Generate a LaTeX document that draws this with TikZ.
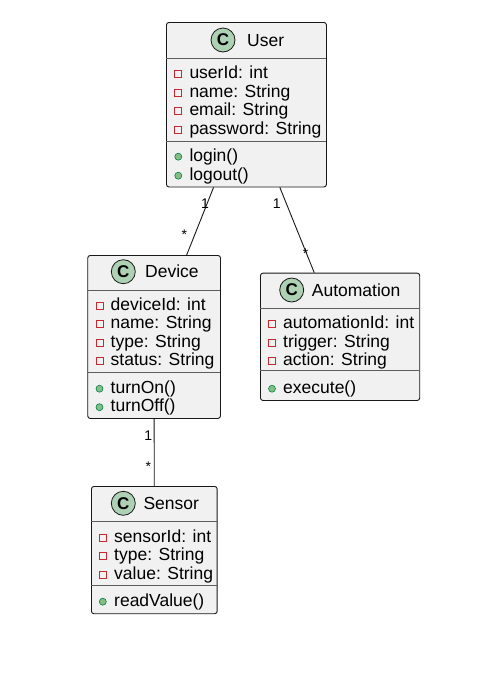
\documentclass[tikz,border=0pt]{standalone}
\usepackage{fontspec}
\setmainfont{Liberation Sans}
\usepackage{xcolor}
\usepackage{tikz}

\definecolor{boxgray}{HTML}{F1F1F1}
\definecolor{linegray}{HTML}{181818}
\definecolor{badgegreen}{HTML}{ADD1B2}
\definecolor{privred}{HTML}{C82930}
\definecolor{pubgreen}{HTML}{84BE84}
\definecolor{pubdark}{HTML}{038048}

\tikzset{
  classbox/.style={draw=linegray, fill=boxgray, rounded corners=2.5pt, line width=0.9pt, inner sep=0pt, anchor=north west},
  sepline/.style={draw=linegray!70, line width=0.9pt},
  badge/.style={circle, draw=linegray, fill=badgegreen, line width=0.8pt, minimum size=24pt, inner sep=0pt, font=\fontsize{17}{17}\bfseries\selectfont},
  title/.style={anchor=base west, inner sep=0pt, font=\fontsize{17.5}{18}\selectfont},
  member/.style={anchor=base west, inner sep=0pt, font=\fontsize{17.5}{18}\selectfont},
  privmark/.style={rectangle, draw=privred, line width=0.9pt, minimum size=7pt, inner sep=0pt},
  pubmark/.style={circle, draw=pubdark, fill=pubgreen, line width=0.6pt, minimum size=7pt, inner sep=0pt},
  assoc/.style={draw=linegray, line width=0.9pt},
  mult/.style={inner sep=0pt, font=\fontsize{14}{14}\selectfont}
}

\begin{document}
\begin{tikzpicture}[x=1pt, y=-1pt]
    \useasboundingbox[fill=white] (0,0) rectangle (477,673);

    % User
    \node[classbox, minimum width=160pt, minimum height=164.5pt] (U) at (166,22) {};
    \draw[sepline] (166,58) -- (326,58);
    \draw[sepline] (166,141) -- (326,141);
    \node[badge] (U-c) at (223,40) {C};
    \node[title] (U-t) at (247,46) {User};
    \foreach \y/\txt [count=\i] in {78.5/userId: int, 97/name: String, 115.5/email: String, 134/password: String} {
        \node[privmark] (U-p\i) at (178.3,\y-4.3) {};
        \node[member] (U-a\i) at (189.3,\y) {\txt};
    }
    \foreach \y/\txt [count=\i] in {161/login(), 180/logout()} {
        \node[pubmark] (U-q\i) at (178.3,\y-4.3) {};
        \node[member] (U-o\i) at (189.3,\y) {\txt};
    }

    % Device
    \node[classbox, minimum width=132.7pt, minimum height=163pt] (D) at (87.3,255) {};
    \draw[sepline] (87.3,290) -- (220,290);
    \draw[sepline] (87.3,372.7) -- (220,372.7);
    \node[badge] (D-c) at (123.3,271.7) {C};
    \node[title] (D-t) at (145,277.5) {Device};
    \foreach \y/\txt [count=\i] in {310/deviceId: int, 328.5/name: String, 347/type: String, 365.5/status: String} {
        \node[privmark] (D-p\i) at (99.5,\y-4.3) {};
        \node[member] (D-a\i) at (110.5,\y) {\txt};
    }
    \foreach \y/\txt [count=\i] in {393/turnOn(), 411.5/turnOff()} {
        \node[pubmark] (D-q\i) at (99.5,\y-4.3) {};
        \node[member] (D-o\i) at (110.5,\y) {\txt};
    }

    % Automation
    \node[classbox, minimum width=159.3pt, minimum height=127.3pt] (A) at (260,272.7) {};
    \draw[sepline] (260,308.3) -- (419.3,308.3);
    \draw[sepline] (260,370.7) -- (419.3,370.7);
    \node[badge] (A-c) at (291.7,290) {C};
    \node[title] (A-t) at (311.7,296) {Automation};
    \foreach \y/\txt [count=\i] in {328.7/automationId: int, 347/trigger: String, 365.5/action: String} {
        \node[privmark] (A-p\i) at (272,\y-4.3) {};
        \node[member] (A-a\i) at (283,\y) {\txt};
    }
    \node[pubmark] (A-q1) at (272,388.7) {};
    \node[member] (A-o1) at (283,393) {execute()};

    % Sensor
    \node[classbox, minimum width=125.7pt, minimum height=127.3pt] (S) at (91,486) {};
    \draw[sepline] (91,521.7) -- (216.7,521.7);
    \draw[sepline] (91,585) -- (216.7,585);
    \node[badge] (S-c) at (123.3,503.3) {C};
    \node[title] (S-t) at (143.3,509.5) {Sensor};
    \foreach \y/\txt [count=\i] in {542/sensorId: int, 560.5/type: String, 579/value: String} {
        \node[privmark] (S-p\i) at (102.8,\y-4.3) {};
        \node[member] (S-a\i) at (114,\y) {\txt};
    }
    \node[pubmark] (S-q1) at (102.8,601.7) {};
    \node[member] (S-o1) at (114,606) {readValue()};

    % associations
    \draw[assoc] (U) -- (D);
    \draw[assoc] (U) -- (A);
    \draw[assoc] (D) -- (S);

    \node[mult] (m1) at (205,204) {1};
    \node[mult] (m2) at (184.3,235) {*};
    \node[mult] (m3) at (276.7,204) {1};
    \node[mult] (m4) at (305.7,253.5) {*};
    \node[mult] (m5) at (148.3,436) {1};
    \node[mult] (m6) at (148.3,467) {*};
\end{tikzpicture}
\end{document}
